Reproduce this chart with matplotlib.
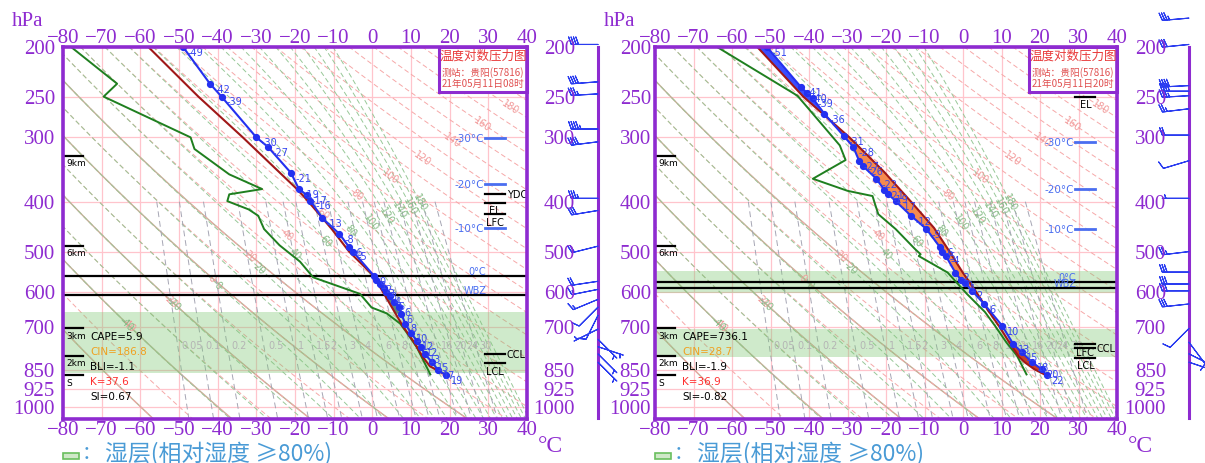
import numpy as np
import matplotlib
matplotlib.use('Agg')
import matplotlib.pyplot as plt
from matplotlib.patches import Rectangle

# ---------------- data: panel A (08时) ----------------
p_temp_a = [200, 236, 250, 300, 313, 352, 378, 388, 398, 430, 462, 490, 500, 558, 568, 578,
            588, 598, 610, 625, 640, 660, 690, 720, 745, 765, 790, 820, 850, 868]
t_temp_a = [-49, -42, -39, -30, -27, -21, -19, -17, -16, -13, -8.5, -6, -5, 0.5, 1, 2,
            3, 3.5, 4.5, 5.5, 7, 7.5, 8.5, 10, 11.5, 12.5, 13.5, 15.5, 17, 19]
lab_temp_a = ['-49', '-42', '-39', '-30', '-27', '-21', '-19', '-17', '-16', '-13', '-8', '-6', '-5', '0', '1', '2',
              '3', '3', '4', '5', '6', '6', '8', '10', '12', '12', '13', '15', '17', '19']
p_dew_a = [200, 236, 250, 300, 316, 354, 378, 387, 399, 414, 426, 452, 486, 523, 561, 604,
           642, 659, 690, 720, 767, 866]
t_dew_a = [-78, -66, -69.5, -47, -46, -37, -28.5, -37, -37.5, -32, -29.5, -28, -24, -18.7, -15.3, -3.2,
           -0.2, 3.7, 7.2, 9, 11.5, 15]
p_parcel_a = [200, 250, 300, 378, 400, 452, 500, 557, 600, 650, 700, 750, 800, 835, 868]
t_parcel_a = [-58, -45, -33.5, -19.5, -16.5, -10.5, -6, 0.3, 2.8, 5.5, 8, 10.8, 13, 14.9, 19]
wet_a = [(656, 862)]
zero_lines_a = [557, 606]
barb_p_a = [198, 234, 247, 289, 306, 394, 416, 488, 571, 592, 619, 641, 665, 707, 740, 765, 790, 820]
barb_u_a = [40, 40, 35, 45, 40, 35, 30, 20, 20, 15, 12, 8, 4, 6, -4, -6, -4, -3]
barb_v_a = [0, 3, 2, 0, 5, 0, 5, 5, 3, 3, 5, 8, 8, 3, 4, 2, 4, 3]
levels_a = [('YDC', 387, 'right'), ('EL', 402, 'below'), ('LFC', 423, 'below'),
            ('CCL', 790, 'right'), ('LCL', 823, 'below')]
iso_marks_a = [('-30°C', 301), ('-20°C', 370), ('-10°C', 450)]
stats_a = [('CAPE=5.9', 'black'), ('CIN=186.8', '#f0a020'), ('BLI=-1.1', 'black'),
           ('K=37.6', '#ff3030'), ('SI=0.67', 'black')]
time_a = '21年05月11日08时'

# ---------------- data: panel B (20时) ----------------
p_temp_b = [200, 240, 246, 252, 270, 298, 313, 333, 341, 361, 379, 386, 399, 426, 452, 490,
            500, 509, 549, 568, 575, 595, 632, 697, 755, 784, 820, 846, 870]
t_temp_b = [-51, -42, -40.5, -39, -36, -31, -28.5, -27, -26, -22.5, -20.5, -19.5, -17.5, -13.5, -9.5, -6,
            -5.5, -4.5, -2, -0.5, 0.5, 2.3, 5.5, 10.2, 13, 15.2, 18, 20.4, 21.7]
lab_temp_b = ['-51', '-41', '-40', '-39', '-36', '-31', '-28', '-27', '-26', '-22', '-21', '-19', '-17', '-12', '-9', '-6',
              '-5', '-4', '-2', '0', '1', '2', '6', '10', '13', '15', '18', '20', '22']
p_dew_b = [200, 249, 311, 332, 361, 381, 390, 401, 423, 452, 494, 506, 510, 549, 604, 655,
           700, 751, 796, 866]
t_dew_b = [-64, -43, -32, -30.5, -39, -30, -23.5, -23, -22, -17.5, -12.5, -11, -11.5, -4, 1, 5.7,
           8.5, 11.3, 14, 16.5]
p_parcel_b = [200, 250, 300, 350, 400, 450, 500, 550, 600, 650, 700, 750, 800, 820, 846, 870]
t_parcel_b = [-53.5, -41.5, -29.5, -20.5, -13.5, -7.5, -3.5, 0, 3.5, 6.5, 9.5, 12, 14.5, 16, 18.5, 21.7]
wet_b = [(546, 602), (707, 801)]
zero_lines_b = [573, 588]
barb_p_b = [176, 198, 238, 244, 249, 264, 297, 333, 394, 500, 548, 578, 596, 632, 705, 750, 790, 820]
barb_u_b = [35, 30, 40, 40, 35, 25, 20, 10, 5, 25, 30, 30, 30, 28, 8, -6, -8, -6]
barb_v_b = [3, 3, 2, 0, 2, 3, 0, 3, 0, 3, 0, 0, 0, 3, 8, 8, 4, 2]
levels_b = [('EL', 250, 'below'), ('LFC', 756, 'below'), ('CCL', 770, 'right'), ('LCL', 804, 'below')]
iso_marks_b = [('-30°C', 306), ('-20°C', 378), ('-10°C', 452)]
stats_b = [('CAPE=736.1', 'black'), ('CIN=28.7', '#f0a020'), ('BLI=-1.9', 'black'),
           ('K=36.9', '#ff3030'), ('SI=-0.82', 'black')]
time_b = '21年05月11日20时'

# ---------------- common diagram furniture ----------------
p_ticks = [200, 250, 300, 400, 500, 600, 700, 850, 925, 1000]
t_ticks = list(range(-80, 41, 10))
height_marks = [('9km', 326), ('6km', 487), ('3km', 704), ('2km', 796), ('S', 869)]
dry_thetas = list(range(-60, 201, 10))
dry_labels = list(range(-40, 181, 20))
moist_thetas = list(range(-40, 181, 10))
moist_labels = [-40, -20, 0, 20, 40, 60, 80, 100, 120, 140, 160, 180]
mix_ratios = [0.05, 0.1, 0.2, 0.5, 1, 1.5, 2, 3, 4, 6, 8, 10, 12, 16, 20, 24, 30]
tan_thetas = [-60, -40, -20, 0, 20]

W, H, DPI = 1205, 464, 100
P_TOP, P_BOT = 200, 1057
T_MIN, T_MAX = -80, 40
PURPLE = '#8E2BD0'
SERIF = 'Liberation Serif'
CJK = 'Noto Sans CJK SC'
plt.rcParams['font.family'] = ['DejaVu Sans', 'Noto Sans CJK SC']

fig = plt.figure(figsize=(W / DPI, H / DPI), dpi=DPI)


def ftext(px, py, s, **kw):
    return fig.text(px / W, 1 - py / H, s, **kw)


def dry_T(th, p):
    return (th + 273.15) * (np.asarray(p) / 1000.0) ** 0.286 - 273.15


def theta_se(tc, p):
    e = 6.112 * np.exp(17.67 * tc / (tc + 243.5))
    w = np.clip(0.622 * e / np.maximum(p - e, 1e-3), 0, 1)
    T = tc + 273.15
    return T * (1000.0 / p) ** 0.286 * np.exp(2.5e6 * w / (1005.0 * T))


def moist_T(th, p):
    target = th + 273.15
    lo = np.full_like(p, -140.0)
    hi = np.full_like(p, 60.0)
    with np.errstate(all='ignore'):
        for _ in range(50):
            mid = 0.5 * (lo + hi)
            v = theta_se(mid, p)
            lo = np.where(v < target, mid, lo)
            hi = np.where(v >= target, mid, hi)
    return 0.5 * (lo + hi)


def mix_T(w, p):
    e = w * p / (622.0 + w)
    a = np.log(e / 6.112)
    return 243.5 * a / (17.67 - a)


def to_frac(T, p):
    xf = (np.asarray(T) - T_MIN) / (T_MAX - T_MIN)
    yf = (np.log(P_BOT) - np.log(p)) / (np.log(P_BOT) - np.log(P_TOP))
    return xf, yf


def label_curve(ax, T, p, A, B, text, color, fs, wpx, hpx):
    xf, yf = to_frac(T, p)
    d = (B[0] - A[0]) * (yf - A[1]) - (B[1] - A[1]) * (xf - A[0])
    idx = np.where(np.sign(d[:-1]) != np.sign(d[1:]))[0]
    for i in idx:
        t = d[i] / (d[i] - d[i + 1])
        x = xf[i] + t * (xf[i + 1] - xf[i])
        y = yf[i] + t * (yf[i + 1] - yf[i])
        if 0.01 < x < 0.99 and 0.01 < y < 0.99:
            ang = np.degrees(np.arctan2((yf[i + 1] - yf[i]) * hpx, (xf[i + 1] - xf[i]) * wpx))
            if ang < -90:
                ang += 180
            if ang > 90:
                ang -= 180
            ax.text(x, y, text, transform=ax.transAxes, color=color, fontsize=fs,
                    rotation=ang, ha='center', va='center', rotation_mode='anchor', zorder=2)
            return


def draw_panel(box, d):
    x0, x1, y0, y1 = box
    wpx, hpx = x1 - x0, y1 - y0
    ax = fig.add_axes([x0 / W, 1 - y1 / H, wpx / W, hpx / H])
    ax.set_yscale('log')
    ax.set_xlim(T_MIN, T_MAX)
    ax.set_ylim(P_BOT, P_TOP)
    ax.set_xticks([])
    ax.set_yticks([])
    ax.yaxis.set_minor_locator(matplotlib.ticker.NullLocator())
    for s in ax.spines.values():
        s.set_color(PURPLE)
        s.set_linewidth(2.6)
        s.set_zorder(10)

    pp = np.geomspace(P_TOP, P_BOT, 240)
    for t in t_ticks:
        ax.axvline(t, color='#ffc4cc', lw=0.9, zorder=1)
    for p in p_ticks:
        ax.axhline(p, color='#ffc4cc', lw=0.9, zorder=1)
    for th in tan_thetas:
        ax.plot(dry_T(th, pp), pp, color='#bfae94', lw=1.0, zorder=1)
    for th in dry_thetas:
        ax.plot(dry_T(th, pp), pp, color='#f6a8a8', lw=0.7, ls=(0, (5, 3)), zorder=1)
    for th in dry_labels:
        label_curve(ax, dry_T(th, pp), pp, (0.151, 0.2606), (0.976, 0.846), str(th),
                    '#f29a9a', 7, wpx, hpx)
    for th in moist_thetas:
        tt = moist_T(th, pp)
        ax.plot(tt, pp, color='#98c898', lw=0.7, ls=(0, (5, 3)), zorder=1)
        if th in moist_labels:
            label_curve(ax, tt, pp, (0.12, 0.25), (0.76, 0.58), str(th), '#86bb86', 7, wpx, hpx)
    pm = np.geomspace(400, P_BOT, 120)
    for w in mix_ratios:
        ax.plot(mix_T(w, pm), pm, color='#a6a6b4', lw=0.7, ls=(0, (6, 4)), zorder=1)
        xl = mix_T(w, 760.0)
        ax.annotate(f'{w:g}', (xl, 760), xytext=(3, 0), textcoords='offset points',
                    color='#b4b4b4', fontsize=7, ha='left', va='center', zorder=2)

    for (pa, pb) in d['wet']:
        ax.axhspan(pa, pb, color='#82c878', alpha=0.38, lw=0, zorder=1.5)
    for p in d['zero']:
        ax.axhline(p, color='black', lw=1.6, zorder=3)

    for name, p in height_marks:
        ax.plot([T_MIN, T_MIN + 20 / wpx * 120], [p, p], color='black', lw=1.6, zorder=4)
        ax.annotate(name, (T_MIN + 3 / wpx * 120, p), xytext=(0, -5), textcoords='offset points',
                    fontsize=6.5, ha='left', va='center', zorder=4)

    pt, tt = np.array(d['p_temp']), np.array(d['t_temp'])
    ppc, tpc = np.array(d['p_parcel']), np.array(d['t_parcel'])
    pgrid = np.geomspace(min(pt.min(), ppc.min()), max(pt.max(), ppc.max()), 400)
    lg = np.log(pgrid)
    Ti = np.interp(lg, np.log(pt), tt)
    Pi = np.interp(lg, np.log(ppc), tpc)
    if d['name'] == 'a':
        m = (pgrid > 550) & (pgrid < 660)
        ax.fill_betweenx(pgrid, Ti, Pi, where=m, color='#4f7a72', alpha=0.9, zorder=4, lw=0)
    else:
        m1 = (Pi > Ti) & (pgrid < 720)
        ax.fill_betweenx(pgrid, Ti, Pi, where=m1, color='#f58a4e', zorder=4, lw=0, interpolate=True)
        m2 = (Pi < Ti) & (pgrid < 280)
        ax.fill_betweenx(pgrid, Ti, Pi, where=m2, color='#3a4dff', zorder=4, lw=0, interpolate=True)
        m3 = (Pi < Ti) & (pgrid > 740)
        ax.fill_betweenx(pgrid, Ti, Pi, where=m3, color='#c8402a', zorder=4, lw=0, interpolate=True)
    ax.plot(d['t_dew'], d['p_dew'], color='#1f7f1f', lw=1.4, zorder=5)
    ax.plot(tpc, ppc, color='#a01818', lw=1.5, zorder=5)
    ax.plot(tt, pt, color='#2430f0', lw=1.5, marker='o', ms=4.2, zorder=6)
    for T, p, s in zip(tt, pt, d['lab_temp']):
        ax.annotate(s, (T, p), xytext=(3.5, -3.5), textcoords='offset points', color='#3545f0',
                    fontsize=7, ha='left', va='center', zorder=7)

    for s, p in d['iso']:
        ax.plot([29.2, 34.3], [p, p], color='#4a6ef0', lw=2, zorder=4)
        ax.text(28.8, p, s, color='#4a6ef0', fontsize=7.5, ha='right', va='center', zorder=4)
    ax.text(27.0, d['zero'][0], '0°C', color='#4a6ef0', fontsize=7, ha='center', va='bottom', zorder=4)
    ax.text(26.5, d['zero'][1], 'WBZ', color='#4a6ef0', fontsize=7, ha='center', va='bottom', zorder=4)

    for s, p, pos in d['levels']:
        ax.plot([29.2, 34.3], [p, p], color='black', lw=1.6, zorder=4)
        if pos == 'right':
            ax.text(34.8, p, s, fontsize=7, ha='left', va='center', zorder=4)
        else:
            ax.annotate(s, (31.8, p), xytext=(0, -5.5), textcoords='offset points',
                        fontsize=7, ha='center', va='center', zorder=4)

    for i, (s, c) in enumerate(d['stats']):
        ftext(x0 + 27, 336.7 + i * 15.2, s, color=c, fontsize=7.5, ha='left', va='center')

    bx = d['boxx']
    ax.add_patch(Rectangle(((bx - x0) / wpx, 1 - (93 - y0) / hpx), (x1 - bx) / wpx, (93 - y0) / hpx,
                           transform=ax.transAxes, facecolor='white', edgecolor=PURPLE, lw=2.2,
                           zorder=9, clip_on=False))
    cx = (bx + x1) / 2
    ftext(cx, 56, '温度对数压力图', color='#e83a3a', fontsize=9, ha='center', va='center',
          family=CJK, zorder=20)
    ftext(cx, 72.5, '测站：贵阳(57816)', color='#e05050', fontsize=7, ha='center', va='center',
          family=[CJK], zorder=20)
    ftext(cx, 83.5, d['time'], color='#e05050', fontsize=7, ha='center', va='center',
          family=[CJK], zorder=20)

    xs = T_MIN + (d['stx'] - x0) / wpx * 120
    ax.plot([xs, xs], [P_BOT * 0.995, 200], color=PURPLE, lw=2.2, clip_on=False, zorder=3)
    b = ax.barbs(np.full(len(d['bp']), xs), d['bp'], d['bu'], d['bv'], length=6.2,
                 color='#2a3cf0', lw=0.8, sizes=dict(spacing=0.09, height=0.28, width=0.2),
                 zorder=5)
    b.set_clip_on(False)

    for t in t_ticks:
        s = f'{t}'.replace('-', '\u2212')
        xp = x0 + (t - T_MIN) / 120 * wpx
        ftext(xp, 38.5, s, color=PURPLE, fontsize=15, family=SERIF, ha='center', va='center')
        ftext(xp, 431, s, color=PURPLE, fontsize=15, family=SERIF, ha='center', va='center')
    for p in p_ticks:
        yp = y0 + (np.log(p) - np.log(P_TOP)) / (np.log(P_BOT) - np.log(P_TOP)) * hpx
        ftext(d['lx'], yp + 1.5, str(p), color=PURPLE, fontsize=15, family=SERIF, ha='right', va='center')
        ftext(d['rx'], yp + 1.5, str(p), color=PURPLE, fontsize=15, family=SERIF, ha='right', va='center')
    ftext(x0 - 35, 21, 'hPa', color=PURPLE, fontsize=15, family=SERIF, ha='center', va='center')
    ftext(x1 + 23, 447, '°C', color=PURPLE, fontsize=17, family=SERIF, ha='center', va='center')

    fig.patches.append(Rectangle((x0 / W, 1 - 460 / H), 16 / W, 6 / H, transform=fig.transFigure,
                                 facecolor='#cfe8c8', edgecolor='#6abf5e', lw=1.2))
    ftext(x0 + 19, 454, '：', color='#4a9bd6', fontsize=14, family=[CJK], ha='left', va='center')
    ftext(x0 + 42, 453, '湿层(相对湿度 ≥80%)', color='#4a9bd6', fontsize=16.5,
          family=[CJK, 'DejaVu Sans'], ha='left', va='center')
    return ax


panel_a = dict(name='a', p_temp=p_temp_a, t_temp=t_temp_a, lab_temp=lab_temp_a, p_dew=p_dew_a,
               t_dew=t_dew_a, p_parcel=p_parcel_a, t_parcel=t_parcel_a, wet=wet_a, zero=zero_lines_a,
               bp=barb_p_a, bu=barb_u_a, bv=barb_v_a, levels=levels_a, iso=iso_marks_a, stats=stats_a,
               time=time_a, boxx=439, stx=598, lx=55, rx=575)
panel_b = dict(name='b', p_temp=p_temp_b, t_temp=t_temp_b, lab_temp=lab_temp_b, p_dew=p_dew_b,
               t_dew=t_dew_b, p_parcel=p_parcel_b, t_parcel=t_parcel_b, wet=wet_b, zero=zero_lines_b,
               bp=barb_p_b, bu=barb_u_b, bv=barb_v_b, levels=levels_b, iso=iso_marks_b, stats=stats_b,
               time=time_b, boxx=1029, stx=1189, lx=651, rx=1166)

draw_panel((63, 527, 47.7, 420), panel_a)
draw_panel((655, 1117, 47.7, 420), panel_b)

fig.savefig('out.png', dpi=DPI)
